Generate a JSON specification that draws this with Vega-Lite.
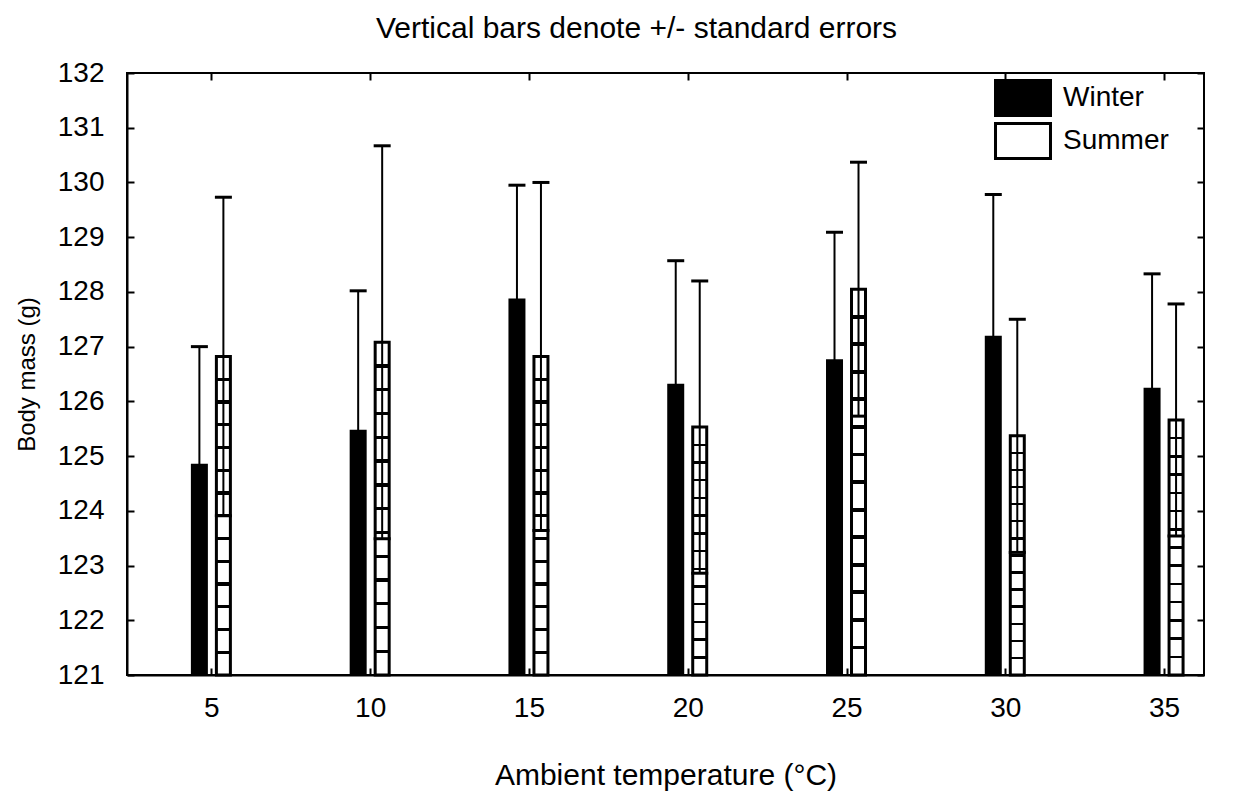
{
  "$schema": "https://vega.github.io/schema/vega-lite/v6.json",
  "autosize": "none",
  "width": 1077,
  "height": 602,
  "padding": {"left": 127, "top": 73, "right": 55, "bottom": 119},
  "background": "white",
  "title": {"text": "Vertical bars denote +/- standard errors", "fontSize": 30, "font": "Liberation Sans", "fontWeight": "normal", "color": "black", "offset": 15, "dx": -29},
  "config": {
    "font": "Liberation Sans",
    "view": {"stroke": "black", "strokeWidth": 2},
    "axis": {"grid": false, "domainColor": "black", "domainWidth": 2, "tickColor": "black", "tickWidth": 2, "labelColor": "black", "titleColor": "black", "labelFontSize": 28, "titleFontSize": 30, "titleFontWeight": "normal", "labelFont": "Liberation Sans", "titleFont": "Liberation Sans"}
  },
  "resolve": {"axis": {"x": "independent", "y": "independent"}},
  "data": {"values": [
    {"temp": 5, "season": "Winter", "mean": 124.86, "lower": 122.72, "upper": 127.0},
    {"temp": 5, "season": "Summer", "mean": 126.82, "lower": 123.91, "upper": 129.73},
    {"temp": 10, "season": "Winter", "mean": 125.48, "lower": 122.94, "upper": 128.02},
    {"temp": 10, "season": "Summer", "mean": 127.08, "lower": 123.49, "upper": 130.67},
    {"temp": 15, "season": "Winter", "mean": 127.88, "lower": 125.81, "upper": 129.95},
    {"temp": 15, "season": "Summer", "mean": 126.82, "lower": 123.64, "upper": 130.0},
    {"temp": 20, "season": "Winter", "mean": 126.32, "lower": 124.07, "upper": 128.57},
    {"temp": 20, "season": "Summer", "mean": 125.53, "lower": 122.86, "upper": 128.2},
    {"temp": 25, "season": "Winter", "mean": 126.77, "lower": 124.45, "upper": 129.09},
    {"temp": 25, "season": "Summer", "mean": 128.05, "lower": 125.73, "upper": 130.37},
    {"temp": 30, "season": "Winter", "mean": 127.2, "lower": 124.62, "upper": 129.78},
    {"temp": 30, "season": "Summer", "mean": 125.37, "lower": 123.24, "upper": 127.5},
    {"temp": 35, "season": "Winter", "mean": 126.25, "lower": 124.17, "upper": 128.33},
    {"temp": 35, "season": "Summer", "mean": 125.66, "lower": 123.54, "upper": 127.78}
  ]},
  "layer": [
    {
      "transform": [{"filter": "datum.season === 'Winter'"}],
      "mark": {"type": "bar", "size": 17, "xOffset": -12},
      "encoding": {
        "x": {"field": "temp", "type": "quantitative", "scale": {"domain": [2.5, 36.1], "nice": false, "zero": false},
          "axis": {"values": [5, 10, 15, 20, 25, 30, 35], "format": "d", "tickSize": -7, "labelPadding": 26, "titlePadding": 38, "title": "Ambient temperature (°C)"}},
        "y": {"field": "mean", "type": "quantitative", "scale": {"domain": [121, 132], "nice": false, "zero": false},
          "axis": {"values": [121, 122, 123, 124, 125, 126, 127, 128, 129, 130, 131, 132], "format": "d", "tickSize": -7, "labelPadding": 30, "titlePadding": 18, "titleFontSize": 24, "title": "Body mass (g)"}},
        "y2": {"datum": 121},
        "fill": {"field": "season", "type": "nominal", "scale": {"domain": ["Winter", "Summer"], "range": ["black", "white"]},
          "legend": {"orient": "none", "legendX": 877, "legendY": 6, "title": null, "padding": 0, "symbolType": "M-1.571,-1H1.571V1H-1.571Z", "symbolSize": 1225, "symbolStrokeColor": "black", "symbolStrokeWidth": 3, "labelFontSize": 28, "labelOffset": 21, "rowPadding": -6.5, "labelColor": "black", "labelFont": "Liberation Sans"}}
      }
    },
    {
      "transform": [{"filter": "datum.season === 'Summer'"}],
      "mark": {"type": "bar", "size": 14, "xOffset": 12, "stroke": "black", "strokeWidth": 3,
        "fill": {"gradient": "linear", "x1": 0, "y1": 0, "x2": 0, "y2": 1, "stops": [
          {"offset": 0, "color": "white"},
          {"offset": 0.0664, "color": "white"}, {"offset": 0.0664, "color": "black"}, {"offset": 0.0764, "color": "black"}, {"offset": 0.0764, "color": "white"},
          {"offset": 0.1379, "color": "white"}, {"offset": 0.1379, "color": "black"}, {"offset": 0.1479, "color": "black"}, {"offset": 0.1479, "color": "white"},
          {"offset": 0.2093, "color": "white"}, {"offset": 0.2093, "color": "black"}, {"offset": 0.2193, "color": "black"}, {"offset": 0.2193, "color": "white"},
          {"offset": 0.2807, "color": "white"}, {"offset": 0.2807, "color": "black"}, {"offset": 0.2907, "color": "black"}, {"offset": 0.2907, "color": "white"},
          {"offset": 0.3521, "color": "white"}, {"offset": 0.3521, "color": "black"}, {"offset": 0.3621, "color": "black"}, {"offset": 0.3621, "color": "white"},
          {"offset": 0.4236, "color": "white"}, {"offset": 0.4236, "color": "black"}, {"offset": 0.4336, "color": "black"}, {"offset": 0.4336, "color": "white"},
          {"offset": 0.495, "color": "white"}, {"offset": 0.495, "color": "black"}, {"offset": 0.505, "color": "black"}, {"offset": 0.505, "color": "white"},
          {"offset": 0.5664, "color": "white"}, {"offset": 0.5664, "color": "black"}, {"offset": 0.5764, "color": "black"}, {"offset": 0.5764, "color": "white"},
          {"offset": 0.6379, "color": "white"}, {"offset": 0.6379, "color": "black"}, {"offset": 0.6479, "color": "black"}, {"offset": 0.6479, "color": "white"},
          {"offset": 0.7093, "color": "white"}, {"offset": 0.7093, "color": "black"}, {"offset": 0.7193, "color": "black"}, {"offset": 0.7193, "color": "white"},
          {"offset": 0.7807, "color": "white"}, {"offset": 0.7807, "color": "black"}, {"offset": 0.7907, "color": "black"}, {"offset": 0.7907, "color": "white"},
          {"offset": 0.8521, "color": "white"}, {"offset": 0.8521, "color": "black"}, {"offset": 0.8621, "color": "black"}, {"offset": 0.8621, "color": "white"},
          {"offset": 0.9236, "color": "white"}, {"offset": 0.9236, "color": "black"}, {"offset": 0.9336, "color": "black"}, {"offset": 0.9336, "color": "white"},
          {"offset": 1, "color": "white"}
        ]}},
      "encoding": {
        "x": {"field": "temp", "type": "quantitative",
          "axis": {"orient": "top", "values": [5, 10, 15, 20, 25, 30, 35], "labels": false, "domain": false, "title": null, "tickSize": -7}},
        "y": {"field": "mean", "type": "quantitative",
          "axis": {"orient": "right", "values": [121, 122, 123, 124, 125, 126, 127, 128, 129, 130, 131, 132], "labels": false, "domain": false, "title": null, "tickSize": -7}},
        "y2": {"datum": 121}
      }
    },
    {
      "transform": [{"filter": "datum.season === 'Winter'"}],
      "mark": {"type": "rule", "color": "black", "strokeWidth": 2, "xOffset": -12},
      "encoding": {"x": {"field": "temp", "type": "quantitative", "axis": null}, "y": {"field": "lower", "type": "quantitative", "axis": null}, "y2": {"field": "upper"}}
    },
    {
      "transform": [{"filter": "datum.season === 'Summer'"}],
      "mark": {"type": "rule", "color": "black", "strokeWidth": 2, "xOffset": 12},
      "encoding": {"x": {"field": "temp", "type": "quantitative", "axis": null}, "y": {"field": "lower", "type": "quantitative", "axis": null}, "y2": {"field": "upper"}}
    },
    {
      "transform": [{"filter": "datum.season === 'Winter'"}],
      "mark": {"type": "tick", "orient": "horizontal", "size": 17, "thickness": 3, "color": "black", "opacity": 1, "xOffset": -12},
      "encoding": {"x": {"field": "temp", "type": "quantitative", "axis": null}, "y": {"field": "upper", "type": "quantitative", "axis": null}}
    },
    {
      "transform": [{"filter": "datum.season === 'Summer'"}],
      "mark": {"type": "tick", "orient": "horizontal", "size": 17, "thickness": 3, "color": "black", "opacity": 1, "xOffset": 12},
      "encoding": {"x": {"field": "temp", "type": "quantitative", "axis": null}, "y": {"field": "upper", "type": "quantitative", "axis": null}}
    },
    {
      "transform": [{"filter": "datum.season === 'Summer'"}],
      "mark": {"type": "tick", "orient": "horizontal", "size": 17, "thickness": 3, "color": "black", "opacity": 1, "xOffset": 12},
      "encoding": {"x": {"field": "temp", "type": "quantitative", "axis": null}, "y": {"field": "lower", "type": "quantitative", "axis": null}}
    }
  ]
}
